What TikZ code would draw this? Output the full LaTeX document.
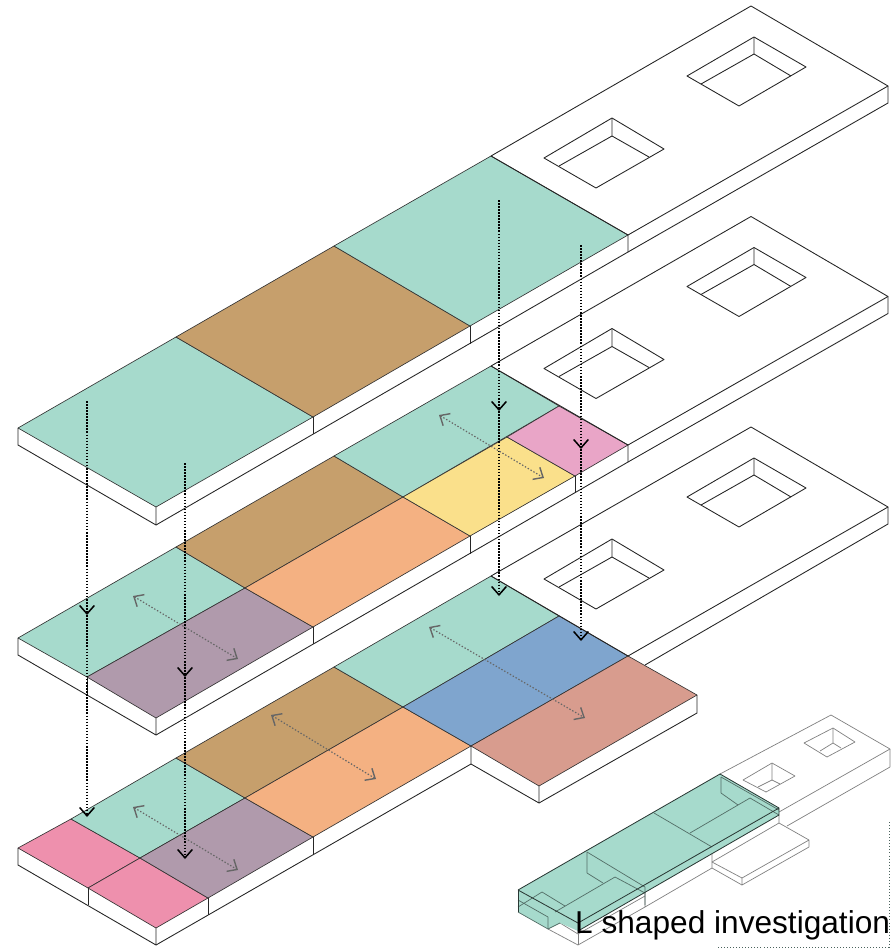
\documentclass[tikz,border=0pt]{standalone}
\usepackage{fontspec}
\setmainfont{Liberation Sans}
\usetikzlibrary{arrows.meta}
\definecolor{myteal}{HTML}{A6DACC}
\definecolor{mybrown}{HTML}{C69F6C}
\definecolor{myorange}{HTML}{F4B182}
\definecolor{mypurple}{HTML}{B09AAC}
\definecolor{myyellow}{HTML}{FAE08B}
\definecolor{mypink}{HTML}{E9A5C7}
\definecolor{myrose}{HTML}{EE90AD}
\definecolor{myblue}{HTML}{7FA5CE}
\definecolor{myred}{HTML}{D89C8E}
\tikzset{
  slab/.style={draw=black!85, line width=0.75pt, line join=round},
  face/.style={draw=black!80, line width=0.55pt, line join=round},
  drop/.style={black, line width=1.35pt, dash pattern=on 1.3pt off 1.3pt, -{Straight Barb[length=2.5mm,width=4.4mm,line width=1.3pt]}},
  span/.style={black!60, line width=1pt, dash pattern=on 1.2pt off 1.6pt, {Straight Barb[length=2.4mm,width=4.2mm,line width=1.2pt]}-{Straight Barb[length=2.4mm,width=4.2mm,line width=1.2pt]}},
  ghost/.style={draw=black!50, line width=0.6pt, line join=round},
  ghostin/.style={draw=black!50!myteal, line width=0.6pt, line join=round},
  ghostedge/.style={draw=black!75!myteal, line width=0.7pt, line join=round},
}
\begin{document}
\begin{tikzpicture}[x=0.03cm,y=-0.03cm]
    \useasboundingbox (0,0) rectangle (893,951);

    % top floor
    \draw[face, fill=myteal] (18,428) -- (176,337) -- (313,417) -- (156,507) -- cycle;
    \draw[face, fill=mybrown] (176,337) -- (334,246) -- (470,326) -- (313,417) -- cycle;
    \draw[face, fill=myteal] (334,246) -- (491,156) -- (628,235) -- (470,326) -- cycle;
    \draw[slab] (491,156) -- (751,6) -- (888,86) -- (628,235);
    \draw[slab] (491,156) -- (628,235);
    \draw[slab] (18,428) -- (18,445) -- (156,525) -- (156,507);
    \draw[slab] (156,525) -- (628,252) -- (628,235);
    \draw[slab] (628,252) -- (888,103) -- (888,86);
    \draw[slab] (313,417) -- (313,434);
    \draw[slab] (470,326) -- (470,344);
    \draw[slab] (544,158) -- (612,118) -- (664,149) -- (596,188) -- cycle;
    \draw[slab] (612,118) -- (612,136) -- (559,166);
    \draw[slab] (612,136) -- (649,157);
    \draw[slab] (687,76) -- (754,37) -- (806,67) -- (739,106) -- cycle;
    \draw[slab] (754,37) -- (754,54) -- (701,84);
    \draw[slab] (754,54) -- (791,76);

    % middle floor
    \draw[face, fill=myteal] (18,638) -- (176,547) -- (245,588) -- (87,677) -- cycle;
    \draw[face, fill=mypurple] (87,677) -- (245,588) -- (313,627) -- (156,718) -- cycle;
    \draw[face, fill=mybrown] (176,547) -- (334,456) -- (403,497) -- (245,588) -- cycle;
    \draw[face, fill=myorange] (245,588) -- (403,497) -- (470,536) -- (313,627) -- cycle;
    \draw[face, fill=myteal] (334,456) -- (491,366) -- (559,406) -- (403,497) -- cycle;
    \draw[face, fill=myyellow] (403,497) -- (507,437) -- (575,476) -- (470,536) -- cycle;
    \draw[face, fill=mypink] (507,437) -- (559,406) -- (628,445) -- (575,476) -- cycle;
    \draw[slab] (491,366) -- (751,216.5) -- (888,296.5) -- (628,445);
    \draw[slab] (491,366) -- (628,445);
    \draw[slab] (18,638) -- (18,655) -- (156,735) -- (156,718);
    \draw[slab] (156,735) -- (628,462) -- (628,445);
    \draw[slab] (628,462) -- (888,313.5) -- (888,296.5);
    \draw[slab] (87,677) -- (87,695);
    \draw[slab] (313,627) -- (313,644);
    \draw[slab] (470,536) -- (470,554);
    \draw[slab] (575,476) -- (575,493);
    \draw[slab] (544,368.5) -- (612,328.5) -- (664,359.5) -- (596,398.5) -- cycle;
    \draw[slab] (612,328.5) -- (612,346.5) -- (559,376.5);
    \draw[slab] (612,346.5) -- (649,367.5);
    \draw[slab] (687,286.5) -- (754,247.5) -- (806,277.5) -- (739,316.5) -- cycle;
    \draw[slab] (754,247.5) -- (754,264.5) -- (701,294.5);
    \draw[slab] (754,264.5) -- (791,286.5);

    % bottom floor
    \draw[face, fill=myrose] (18,848) -- (71,819) -- (140,858) -- (88,888) -- cycle;
    \draw[face, fill=myrose] (88,888) -- (140,858) -- (208,898) -- (156,928) -- cycle;
    \draw[face, fill=myteal] (71,819) -- (176,758) -- (245,798) -- (140,858) -- cycle;
    \draw[face, fill=mypurple] (140,858) -- (245,798) -- (313,837) -- (208,898) -- cycle;
    \draw[face, fill=mybrown] (176,758) -- (334,667) -- (403,707) -- (245,798) -- cycle;
    \draw[face, fill=myorange] (245,798) -- (403,707) -- (471,746) -- (313,837) -- cycle;
    \draw[face, fill=myteal] (334,667) -- (491,576) -- (559,616) -- (403,707) -- cycle;
    \draw[face, fill=myblue] (403,707) -- (559,616) -- (628,656) -- (471,746) -- cycle;
    \draw[face, fill=myred] (471,746) -- (628,656) -- (697,695) -- (539,786) -- cycle;
    \draw[slab] (491,576) -- (751,427) -- (888,507) -- (628,656);
    \draw[slab] (491,576) -- (628,656);
    \draw[slab] (18,848) -- (18,865) -- (156,945) -- (156,928);
    \draw[slab] (156,945) -- (471,764) -- (471,746);
    \draw[slab] (471,764) -- (539,803) -- (539,786);
    \draw[slab] (539,803) -- (697,713) -- (697,695);
    \draw[slab] (645,665) -- (888,524) -- (888,507);
    \draw[slab] (88,888) -- (88,905);
    \draw[slab] (208,898) -- (208,915);
    \draw[slab] (313,837) -- (313,855);
    \draw[slab] (544,579) -- (612,539) -- (664,570) -- (596,609) -- cycle;
    \draw[slab] (612,539) -- (612,557) -- (559,587);
    \draw[slab] (612,557) -- (649,578);
    \draw[slab] (687,497) -- (754,458) -- (806,488) -- (739,527) -- cycle;
    \draw[slab] (754,458) -- (754,475) -- (701,505);
    \draw[slab] (754,475) -- (791,497);

    % small model
    \draw[ghost] (720,774) -- (831,715) -- (890,749) -- (779,812);
    \draw[ghost] (890,749) -- (890,767) -- (787,826);
    \draw[ghost] (743,780) -- (772,763) -- (795,776) -- (766,792) -- cycle;
    \draw[ghost] (772,763) -- (772,780) -- (758,787);
    \draw[ghost] (772,780) -- (780,784);
    \draw[ghost] (804,743) -- (833,728) -- (855,742) -- (827,757) -- cycle;
    \draw[ghost] (833,728) -- (833,743) -- (820,751);
    \draw[ghost] (833,743) -- (841,748);
    \draw[ghost] (779,815) -- (779,823) -- (809,840) -- (809,847) -- (742,885) -- (742,878) -- (809,840);
    \draw[ghost] (742,878) -- (712,862) -- (779,823);
    \draw[ghost] (742,885) -- (712,868) -- (712,847);
    \draw[ghost] (712,868) -- (645,907) -- (645,887);
    \draw[ghost] (645,907) -- (578,945) -- (548,929);
    \draw[ghost] (578,931) -- (578,945);
    \draw[ghost] (560,923) -- (578,934) -- (645,896);

    \fill[myteal] (518,890) -- (720,774) -- (779,808) -- (779,815) -- (578,931) -- (560,923) -- (548,929) -- (518,912) -- cycle;
    \draw[ghostin] (587,852) -- (645,887) -- (645,905);
    \draw[ghostin] (587,852) -- (587,873) -- (603,883);
    \draw[ghostin] (645,893) -- (615,877) -- (555,912);
    \draw[ghostin] (518,907) -- (542,892) -- (565,906);
    \draw[ghostin] (654,813) -- (712,847);
    \draw[ghostin] (690,833) -- (750,798) -- (779,815);
    \draw[ghostin] (721,777) -- (721,793) -- (738,805);
    \draw[ghostin] (721,777) -- (779,810);
    \draw[ghostin] (518,900) -- (548,917) -- (548,929);
    \draw[ghostin] (518,912) -- (548,929) -- (560,923);
    \draw[ghostedge] (518,890) -- (518,912);
    \draw[ghostedge] (518,890) -- (720,774) -- (779,808) -- (779,815) -- (578,931);
    \draw[ghostedge] (518,890) -- (578,923) -- (779,808);
    \draw[ghostedge] (578,923) -- (578,931);

    % arrows between floors
    \coordinate (a1) at (87,401);
    \coordinate (a2) at (87,615);
    \coordinate (a3) at (87,817);
    \coordinate (b1) at (185,463);
    \coordinate (b2) at (185,677);
    \coordinate (b3) at (185,859);
    \coordinate (c1) at (499,200);
    \coordinate (c2) at (499,411);
    \coordinate (c3) at (499,596);
    \coordinate (d1) at (581,245);
    \coordinate (d2) at (581,449);
    \coordinate (d3) at (581,641);
    \draw[drop] (a1) -- (a2);
    \draw[drop] (a2) -- (a3);
    \draw[drop] (b1) -- (b2);
    \draw[drop] (b2) -- (b3);
    \draw[drop] (c1) -- (c2);
    \draw[drop] (c2) -- (c3);
    \draw[drop] (d1) -- (d2);
    \draw[drop] (d2) -- (d3);

    % arrows across the rooms
    \coordinate (e1) at (133,596);
    \coordinate (e2) at (238,659);
    \coordinate (f1) at (439,415);
    \coordinate (f2) at (544,478);
    \coordinate (g1) at (133,807);
    \coordinate (g2) at (238,870);
    \coordinate (h1) at (271,715);
    \coordinate (h2) at (376,779);
    \coordinate (i1) at (429,627);
    \coordinate (i2) at (585,718);
    \draw[span] (e1) -- (e2);
    \draw[span] (f1) -- (f2);
    \draw[span] (g1) -- (g2);
    \draw[span] (h1) -- (h2);
    \draw[span] (i1) -- (i2);

    % caption and its frame
    \coordinate (k1) at (889,822);
    \coordinate (k2) at (889,947);
    \coordinate (k3) at (717,947);
    \draw[black!55!myteal, line width=0.6pt, dotted] (k1) -- (k2) -- (k3);
    \node(title) [anchor=base west, inner sep=0pt] at (575,933) {\fontsize{27}{30}\selectfont L shaped investigation};
\end{tikzpicture}
\end{document}
